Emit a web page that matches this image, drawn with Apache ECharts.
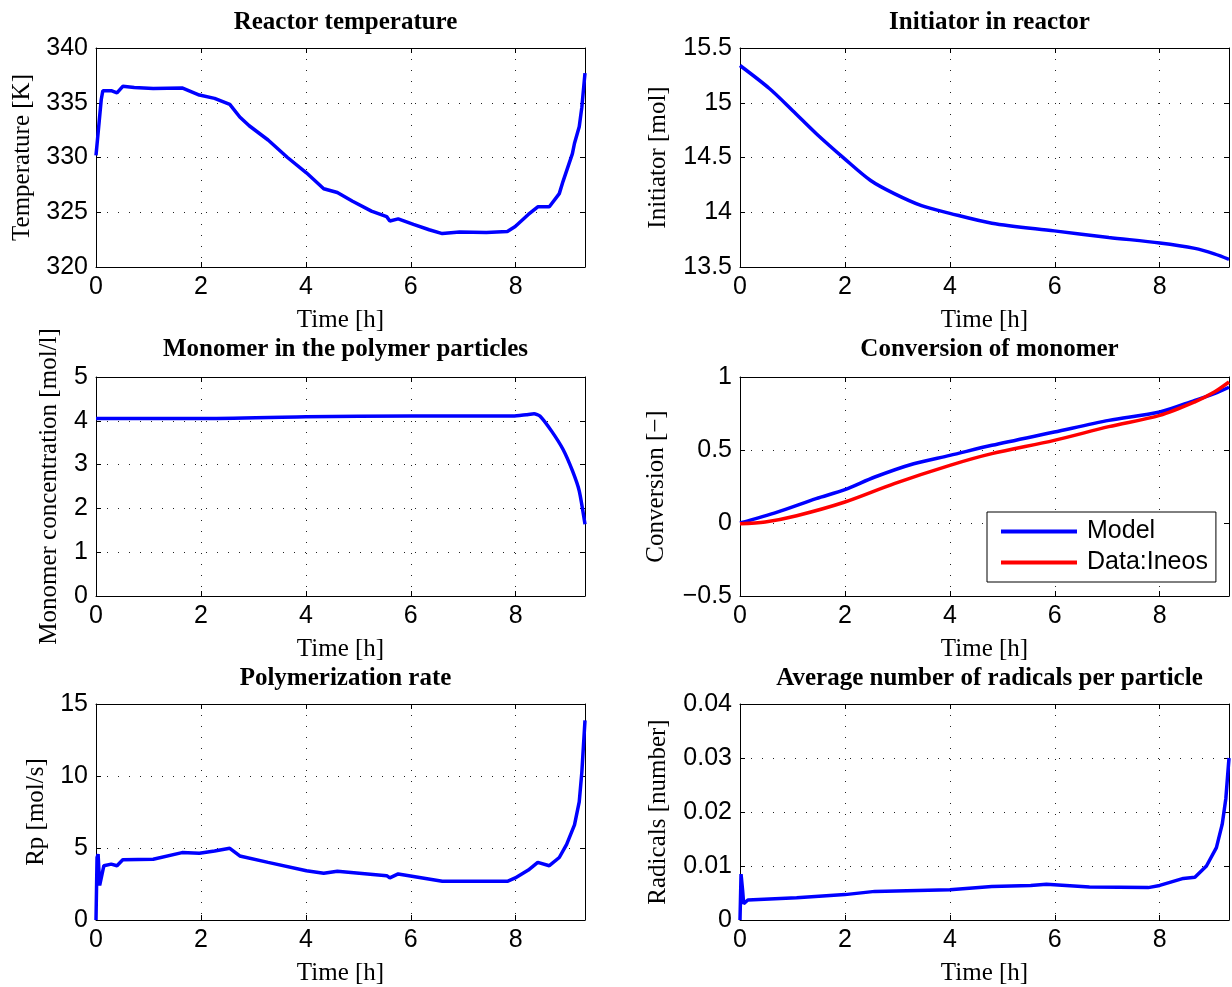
<!DOCTYPE html>
<html><head><meta charset="utf-8">
<script src="https://cdn.jsdelivr.net/npm/echarts@6/dist/echarts.min.js"></script>
<style>html,body{margin:0;padding:0;background:#fff}#c{width:1232px;height:987px}</style>
</head><body><div id="c"></div><script>
// ---- data ----
const xTicksMax = 9.32;
const tempTime  = [0, 0.1, 0.13, 0.29, 0.40, 0.51, 0.73, 1.09, 1.64, 1.97, 2.26, 2.55, 2.74, 2.92, 3.28, 3.65, 4.01, 4.34, 4.60, 4.89, 5.25, 5.54, 5.60, 5.76, 6.05, 6.35, 6.60, 6.93, 7.44, 7.84, 7.99, 8.24, 8.42, 8.64, 8.83, 8.90, 9.08, 9.12, 9.21, 9.26, 9.32];
const tempValue = [330.2, 335.3, 336.1, 336.1, 335.9, 336.5, 336.4, 336.3, 336.35, 335.7, 335.4, 334.85, 333.7, 332.9, 331.6, 330.0, 328.6, 327.15, 326.8, 326.0, 325.1, 324.6, 324.2, 324.4, 323.9, 323.4, 323.05, 323.2, 323.15, 323.25, 323.7, 324.8, 325.5, 325.5, 326.7, 327.8, 330.35, 331.3, 332.8, 334.6, 337.7];

const initTime  = [0, 0.56, 1.0, 1.45, 1.99, 2.49, 2.94, 3.46, 4.0, 4.80, 5.99, 7.03, 8.0, 8.67, 9.04, 9.32];
const initValue = [15.34, 15.13, 14.93, 14.72, 14.49, 14.29, 14.17, 14.06, 13.99, 13.90, 13.83, 13.77, 13.72, 13.67, 13.62, 13.57];

const monoTime  = [0, 2, 4, 6, 7.95, 8.2, 8.35, 8.46, 8.68, 8.90, 9.08, 9.21, 9.32];
const monoValue = [4.05, 4.05, 4.09, 4.11, 4.11, 4.14, 4.16, 4.11, 3.77, 3.35, 2.86, 2.40, 1.64];

const convModelTime  = [0, 0.71, 1.45, 2.0, 2.57, 3.31, 4.0, 4.80, 5.99, 7.03, 8.0, 8.67, 9.04, 9.32];
const convModelValue = [0, 0.075, 0.167, 0.228, 0.315, 0.406, 0.463, 0.532, 0.623, 0.703, 0.76, 0.84, 0.886, 0.93];
const convDataTime   = [0, 0.48, 1.08, 2.0, 2.94, 4.0, 4.80, 5.99, 7.03, 8.0, 8.67, 9.04, 9.32];
const convDataValue  = [-0.005, 0.007, 0.05, 0.144, 0.27, 0.395, 0.475, 0.566, 0.66, 0.737, 0.83, 0.897, 0.966];

const rpTime  = [0, 0.02, 0.04, 0.07, 0.15, 0.29, 0.40, 0.51, 1.09, 1.64, 1.97, 2.26, 2.55, 2.74, 3.28, 4.01, 4.34, 4.60, 5.54, 5.60, 5.76, 6.6, 7.44, 7.84, 7.99, 8.24, 8.42, 8.64, 8.83, 8.97, 9.12, 9.21, 9.26, 9.32];
const rpValue = [0, 4.34, 4.57, 2.4, 3.77, 3.88, 3.77, 4.18, 4.22, 4.68, 4.63, 4.79, 4.98, 4.45, 4.0, 3.42, 3.24, 3.38, 3.08, 2.92, 3.2, 2.69, 2.69, 2.69, 2.92, 3.47, 4.0, 3.77, 4.34, 5.25, 6.6, 8.2, 10.27, 13.86];

const radTime  = [0, 0.02, 0.05, 0.07, 0.15, 1.08, 2.0, 2.57, 4.0, 4.8, 5.54, 5.84, 6.66, 7.78, 8.0, 8.45, 8.67, 8.89, 9.08, 9.19, 9.26, 9.32];
const radValue = [0, 0.0085, 0.0055, 0.003, 0.0037, 0.0041, 0.0047, 0.0053, 0.0056, 0.0062, 0.0064, 0.0066, 0.0061, 0.006, 0.0064, 0.0077, 0.0079, 0.01, 0.0134, 0.0177, 0.0225, 0.030];

const titles = ['Reactor temperature', 'Initiator in reactor', 'Monomer in the polymer particles', 'Conversion of monomer', 'Polymerization rate', 'Average number of radicals per particle'];
const yNames = ['Temperature [K]', 'Initiator [mol]', 'Monomer concentration [mol/l]', 'Conversion [\u2212]', 'Rp [mol/s]', 'Radicals [number]'];
const yMin = [320, 13.5, 0, -0.5, 0, 0];
const yMax = [340, 15.5, 5, 1, 15, 0.04];
const yInterval = [5, 0.5, 1, 0.5, 5, 0.01];
const xName = 'Time [h]';
const legendNames = ['Model', 'Data:Ineos'];

// ---- layout / style ----
const SERIF = '"Liberation Serif", "Times New Roman", serif';
const SANS = '"Liberation Sans", Arial, sans-serif';
const colLeft = [96, 740], rowTop = [48, 377, 704], W = 489, H = [219, 219, 220];
const yNameGap = [61, 69, 34, 71, 47, 69];
const titleTop = [5, 332, 661];
const panelSeries = [
  [{name: titles[0], x: tempTime, y: tempValue, color: '#0000ff'}],
  [{name: titles[1], x: initTime, y: initValue, color: '#0000ff', smooth: 0.3}],
  [{name: titles[2], x: monoTime, y: monoValue, color: '#0000ff', smooth: 0.2}],
  [{name: legendNames[0], x: convModelTime, y: convModelValue, color: '#0000ff', smooth: 0.3},
   {name: legendNames[1], x: convDataTime, y: convDataValue, color: '#ff0000', smooth: 0.3}],
  [{name: titles[4], x: rpTime, y: rpValue, color: '#0000ff'}],
  [{name: titles[5], x: radTime, y: radValue, color: '#0000ff'}]
];

const fmt = v => v < 0 ? '\u2212' + String(-v) : String(v);
const axisLine = {show: true, onZero: false, lineStyle: {color: '#000', width: 1}};
const axisTick = {show: true, inside: true, length: 5, lineStyle: {color: '#000', width: 1}};
const split = {show: true, lineStyle: {color: '#222', width: 1, type: [1, 10]}};

const grid = [], xAxis = [], yAxis = [], series = [], title = [];
for (let i = 0; i < 6; i++) {
  const c = i % 2, r = Math.floor(i / 2);
  grid.push({left: colLeft[c], top: rowTop[r], width: W, height: H[r], containLabel: false});
  title.push({text: titles[i], left: colLeft[c] + W / 2, top: titleTop[r], textAlign: 'center',
    textStyle: {fontFamily: SERIF, fontWeight: 'bold', fontSize: 25, color: '#000'}});
  const xBase = {type: 'value', gridIndex: i, min: 0, max: xTicksMax, interval: 2, axisLine, axisTick};
  xAxis.push(Object.assign({}, xBase, {position: 'bottom', splitLine: split,
    axisLabel: {fontFamily: SANS, fontSize: 25, color: '#000', margin: 8, showMaxLabel: false},
    name: xName, nameLocation: 'middle', nameGap: 41,
    nameTextStyle: {fontFamily: SERIF, fontSize: 25, color: '#000'}}));
  xAxis.push(Object.assign({}, xBase, {position: 'top', splitLine: {show: false}, axisLabel: {show: false}}));
  const yBase = {type: 'value', gridIndex: i, min: yMin[i], max: yMax[i], interval: yInterval[i], axisLine, axisTick};
  yAxis.push(Object.assign({}, yBase, {position: 'left', splitLine: split,
    axisLabel: {fontFamily: SANS, fontSize: 25, color: '#000', margin: 8, formatter: fmt},
    name: yNames[i], nameLocation: 'middle', nameGap: yNameGap[i],
    nameTextStyle: {fontFamily: SERIF, fontSize: 25, color: '#000'}}));
  yAxis.push(Object.assign({}, yBase, {position: 'right', splitLine: {show: false}, axisLabel: {show: false}}));
  panelSeries[i].forEach(s => {
    series.push({type: 'line', name: s.name, xAxisIndex: 2 * i, yAxisIndex: 2 * i,
      data: s.x.map((t, k) => [t, s.y[k]]), showSymbol: false, symbol: 'none',
      smooth: s.smooth || false, color: s.color,
      lineStyle: {color: s.color, width: 3.5}, clip: true, z: 3});
  });
}

const chart = echarts.init(document.getElementById('c'), null, {renderer: 'canvas'});
chart.setOption({
  animation: false,
  backgroundColor: '#fff',
  title, grid, xAxis, yAxis, series,
  legend: {data: legendNames, orient: 'vertical', left: 987, top: 512,
    icon: 'rect', itemWidth: 76, itemHeight: 4, itemGap: 6, padding: [7, 8, 7, 14],
    backgroundColor: '#fff', borderColor: '#000', borderWidth: 1, borderRadius: 0,
    selectedMode: false,
    textStyle: {fontFamily: SANS, fontSize: 25, color: '#000', padding: [0, 0, 0, 5]}}
});
</script></body></html>
